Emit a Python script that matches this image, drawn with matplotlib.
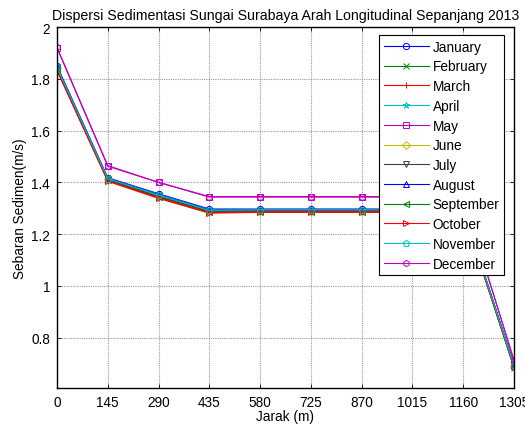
import matplotlib.pyplot as plt

plt.rcParams['font.family'] = ['Liberation Sans', 'DejaVu Sans']
plt.rcParams['font.size'] = 9.8

# jarak (m) dan sebaran sedimen per bulan
jarak = [0, 145, 290, 435, 580, 725, 870, 1015, 1160, 1305]
bulan = ['January', 'February', 'March', 'April', 'May', 'June', 'July',
         'August', 'September', 'October', 'November', 'December']

jan = [1.850, 1.418, 1.356, 1.297, 1.297, 1.297, 1.297, 1.297, 1.297, 0.695]
feb = [1.838, 1.409, 1.344, 1.286, 1.289, 1.289, 1.289, 1.289, 1.289, 0.684]
mar = [1.832, 1.404, 1.338, 1.281, 1.284, 1.284, 1.284, 1.284, 1.284, 0.688]
apr = [1.846, 1.416, 1.353, 1.294, 1.295, 1.295, 1.295, 1.295, 1.295, 0.693]
may = [1.920, 1.462, 1.400, 1.343, 1.343, 1.343, 1.343, 1.343, 1.343, 0.712]
jun = [1.842, 1.412, 1.348, 1.290, 1.291, 1.291, 1.291, 1.291, 1.291, 0.690]
jul = [1.840, 1.411, 1.346, 1.288, 1.290, 1.290, 1.290, 1.290, 1.290, 0.688]
aug = [1.848, 1.415, 1.352, 1.293, 1.294, 1.294, 1.294, 1.294, 1.294, 0.694]
sep = [1.836, 1.408, 1.342, 1.285, 1.287, 1.287, 1.287, 1.287, 1.287, 0.683]
okt = [1.834, 1.406, 1.340, 1.283, 1.286, 1.286, 1.286, 1.286, 1.286, 0.690]
nov = [1.845, 1.414, 1.351, 1.292, 1.294, 1.294, 1.294, 1.294, 1.294, 0.692]
des = [1.922, 1.465, 1.400, 1.345, 1.345, 1.345, 1.345, 1.345, 1.345, 0.712]

yticks = [0.8, 1, 1.2, 1.4, 1.6, 1.8, 2]
ylabels = ['0.8', '1', '1.2', '1.4', '1.6', '1.8', '2']

data = [jan, feb, mar, apr, may, jun, jul, aug, sep, okt, nov, des]
warna = ['#0000ff', '#008000', '#ff0000', '#00bfbf', '#bf00bf', '#bfbf00',
         '#404040', '#0000ff', '#008000', '#ff0000', '#00bfbf', '#bf00bf']
marker = ['o', 'x', '+', '*', 's', 'D', 'v', '^', '<', '>', 'p', 'h']

fig = plt.figure(figsize=(5.25, 4.27), dpi=100)
ax = fig.add_axes([0.1086, 0.089, 0.8704, 0.845])

for i in range(len(data)):
    ms = 4.5
    if marker[i] == 'D':
        ms = 3.8
    ax.plot(jarak, data[i], color=warna[i], marker=marker[i], markersize=ms,
            markerfacecolor='none', markeredgewidth=0.7, linewidth=0.8,
            label=bulan[i])

ax.set_xlim(0, 1305)
ax.set_ylim(0.605, 2.0)
ax.set_xticks(jarak)
ax.set_xticklabels([str(j) for j in jarak])
ax.set_yticks(yticks)
ax.set_yticklabels(ylabels)
ax.tick_params(direction='in', top=True, right=True, length=3, width=0.6, pad=5)
ax.grid(True, color='0.6', linestyle=(0, (1, 1)), linewidth=0.8)
for s in ax.spines.values():
    s.set_linewidth(1.0)

ax.set_title('Dispersi Sedimentasi Sungai Surabaya Arah Longitudinal Sepanjang 2013',
             fontsize=10.2, pad=6)
ax.set_xlabel('Jarak (m)', labelpad=0)
ax.set_ylabel('Sebaran Sedimen(m/s)', labelpad=3)

leg = ax.legend(loc='upper left', bbox_to_anchor=(379 / 525, 1 - 36 / 427),
                bbox_transform=fig.transFigure, fancybox=False, framealpha=1,
                edgecolor='black', handlelength=3.3, handletextpad=0.3,
                labelspacing=0.42, borderpad=0.35, borderaxespad=0)
leg.get_frame().set_linewidth(0.8)

plt.savefig('out.png', dpi=100)
